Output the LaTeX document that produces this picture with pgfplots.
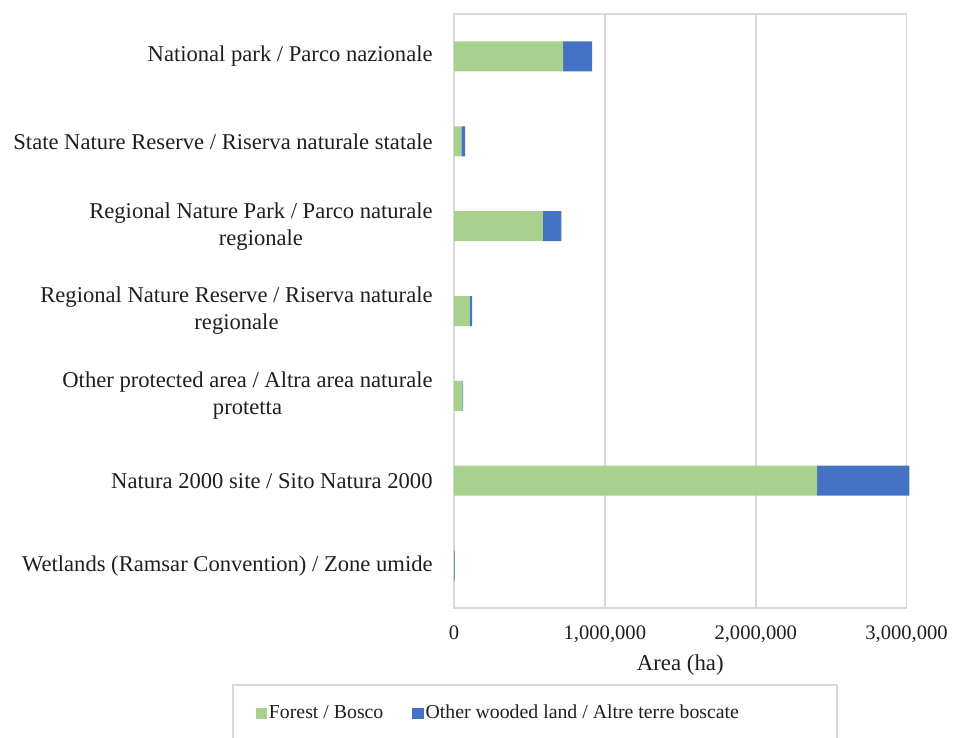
\documentclass[border=0pt]{standalone}
\usepackage{fontspec}
\setmainfont{Liberation Serif}
\usepackage{pgfplots}
\pgfplotsset{compat=1.18}
\definecolor{cgreen}{HTML}{A9D18E}
\definecolor{cblue}{HTML}{4472C4}
\definecolor{cgrid}{HTML}{D9D9D9}
\definecolor{ctext}{HTML}{1F1F1F}
\begin{document}
\begin{tikzpicture}
\begin{axis}[
  scale only axis, width=226.3pt, height=297pt,
  xbar stacked, bar width=15pt,
  xmin=0, xmax=3000000, ymin=-0.5, ymax=6.5,
  clip=false,
  xtick={0,1000000,2000000,3000000},
  scaled x ticks=false,
  /pgf/number format/fixed,
  /pgf/number format/1000 sep={,},
  /pgf/number format/assume math mode=true,
  ytick={0,1,2,3,4,5,6},
  yticklabels={
    {Wetlands (Ramsar Convention) / Zone umide},
    {Natura 2000 site / Sito Natura 2000},
    {Other protected area / Altra area naturale\\protetta},
    {Regional Nature Reserve / Riserva naturale\\regionale},
    {Regional Nature Park / Parco naturale\\regionale},
    {State Nature Reserve / Riserva naturale statale},
    {National park / Parco nazionale}},
  yticklabel style={align=center, anchor=east, inner xsep=0pt, xshift=-10.5pt,
    font=\fontsize{11.3}{13.5}\selectfont, text=ctext},
  xticklabel style={font=\fontsize{10.3}{12}\selectfont, text=ctext, yshift=-5.5pt},
  xlabel={Area (ha)},
  xlabel style={font=\fontsize{11.4}{13}\selectfont, text=ctext, yshift=1pt},
  axis line style={cgrid, line width=0.8pt},
  xmajorgrids, major grid style={cgrid, line width=0.8pt},
  tick style={draw=none},
  legend columns=2,
  legend image code/.code={\fill[#1] (0pt,-2.8pt) rectangle (5.6pt,2.8pt);},
  legend style={at={(-0.4905,-0.128)}, anchor=north west, draw=cgrid, line width=0.8pt,
    inner xsep=11.5pt, inner ysep=9pt,
    nodes={inner sep=1pt, text=ctext},
    font=\fontsize{9.9}{12}\selectfont,
    /tikz/every even column/.append style={column sep=13.5pt}},
]
\addplot[fill=cgreen, draw=none] coordinates {
  (1000,0) (2407000,1) (55000,2) (106000,3) (589000,4) (49000,5) (723000,6)};
\addplot[fill=cblue, draw=none] coordinates {
  (3000,0) (612000,1) (6000,2) (14000,3) (122000,4) (24000,5) (193000,6)};
\legend{Forest / Bosco, Other wooded land / Altre terre boscate\rule{36.5pt}{0pt}}
\end{axis}
\pgfresetboundingbox
\path (-227pt,-65pt) rectangle (250pt,304pt);
\end{tikzpicture}
\end{document}
